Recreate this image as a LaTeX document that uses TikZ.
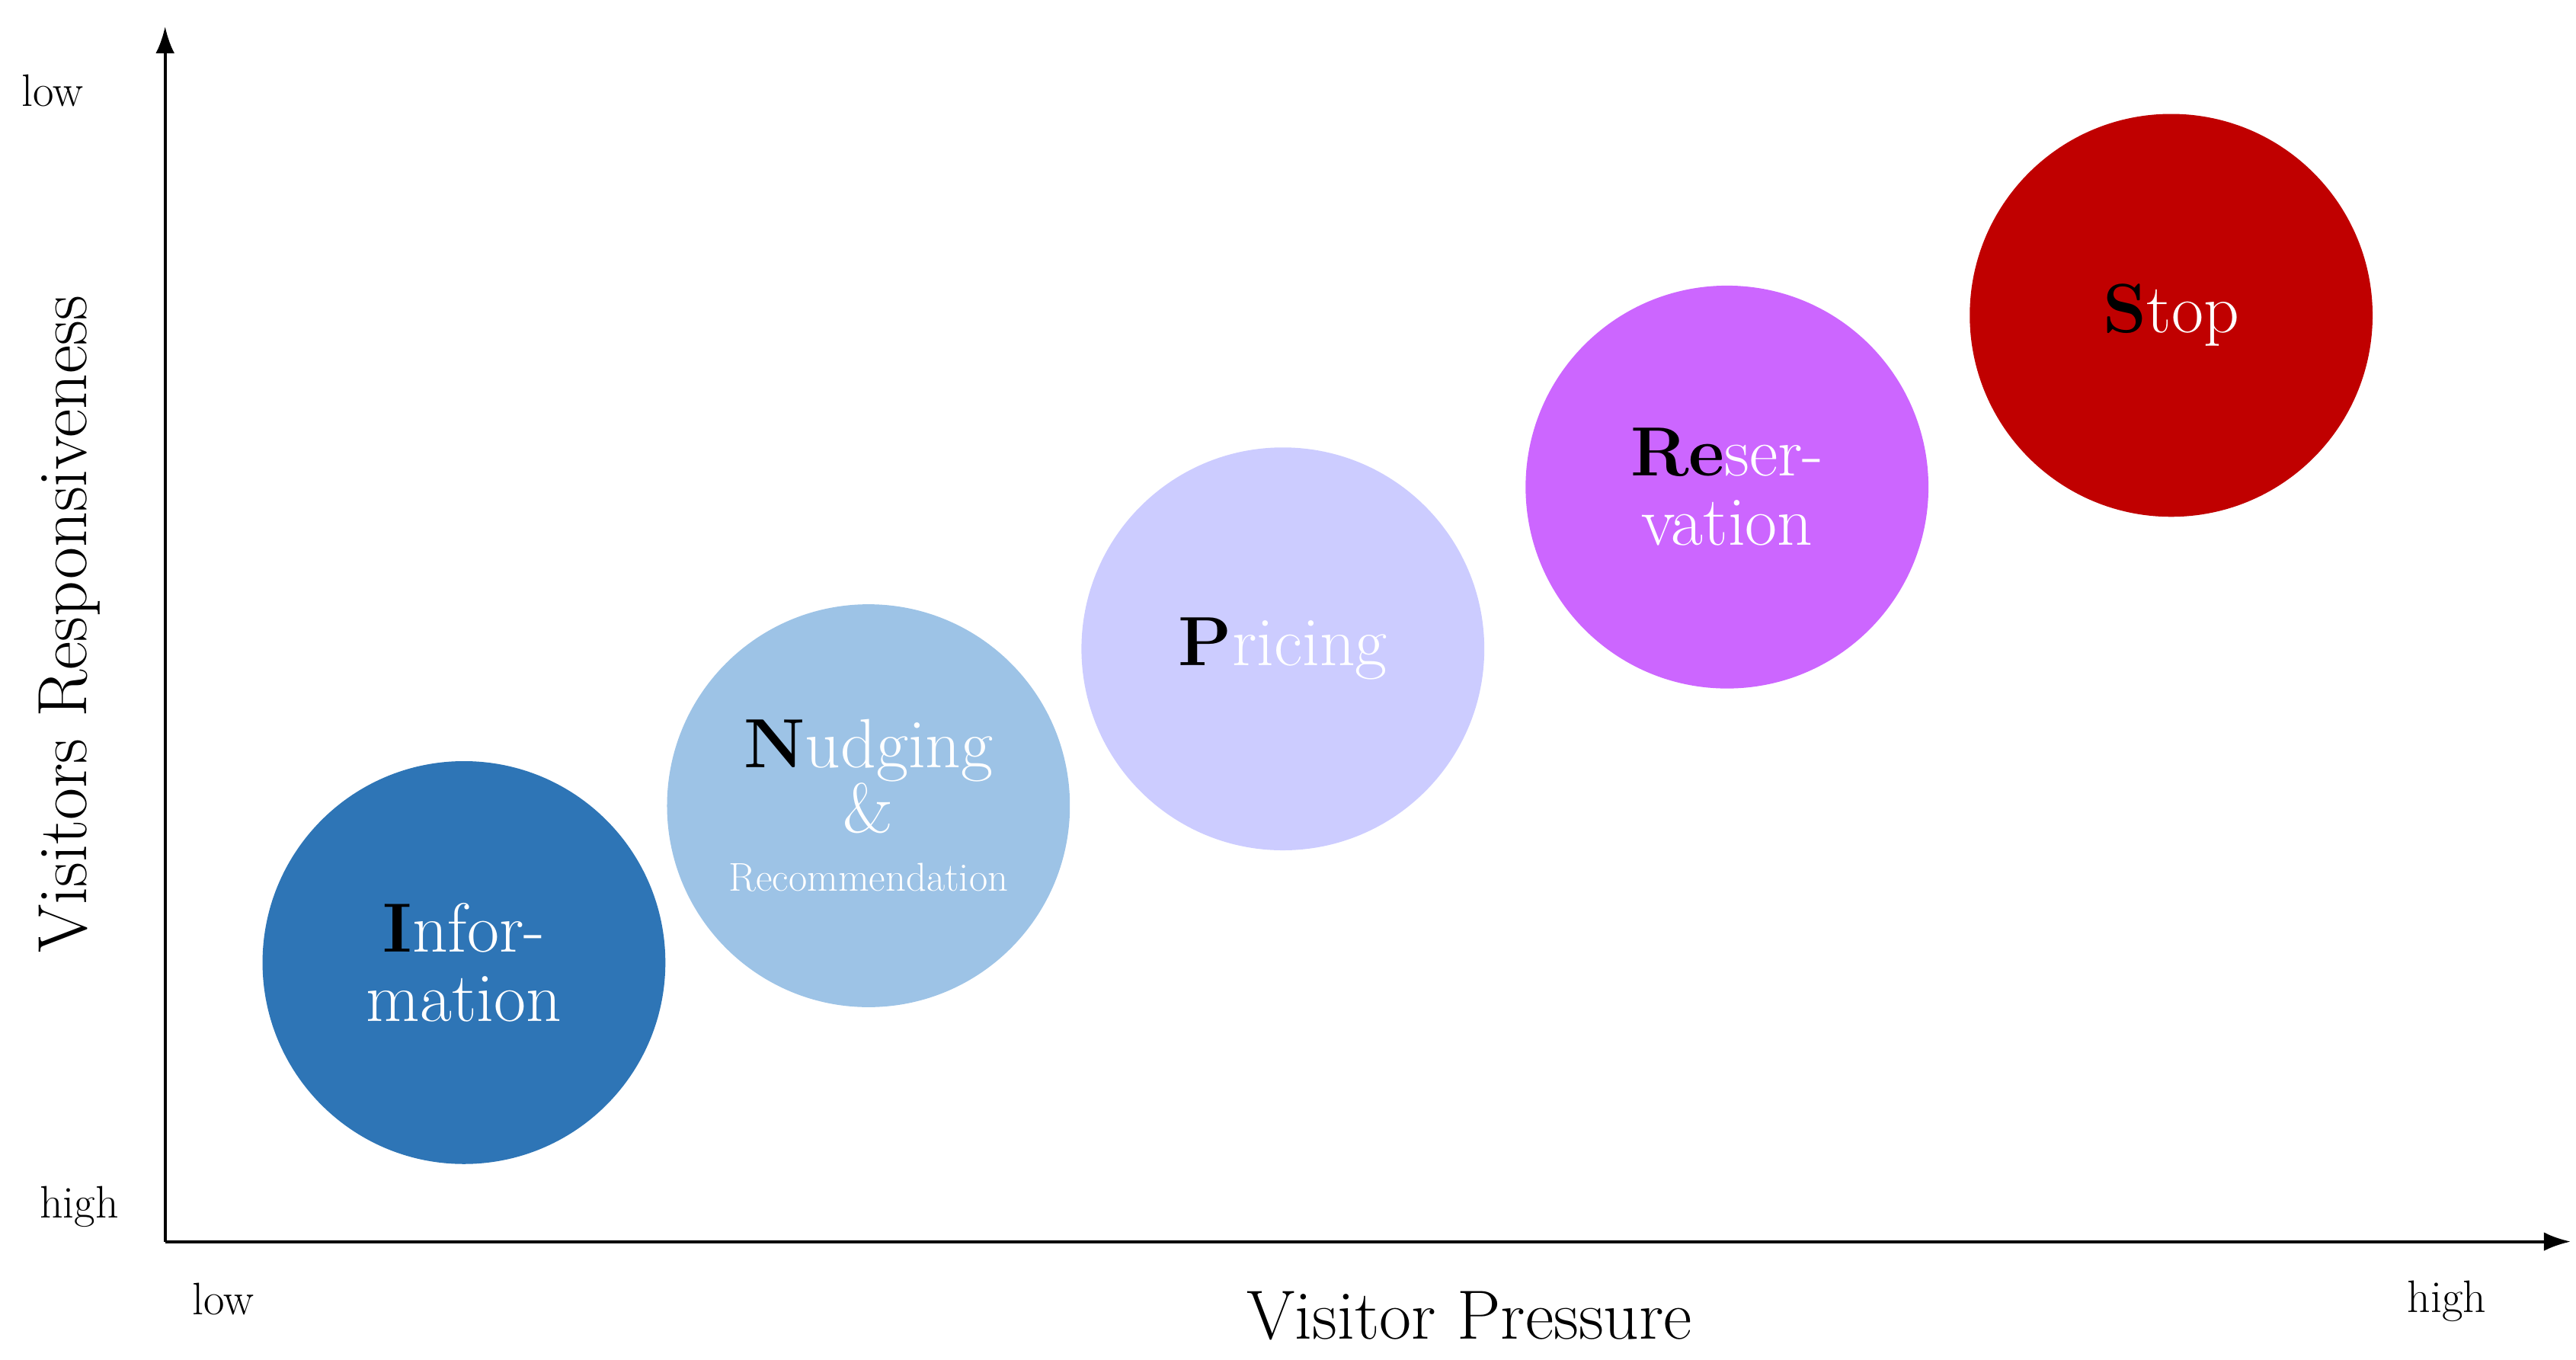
\documentclass[tikz,border=0pt]{standalone}
\usetikzlibrary{arrows.meta}
\begin{document}
\begin{tikzpicture}[x=0.02167cm,y=-0.02167cm,
  bub/.style={circle,minimum size=244*0.02167cm,inner sep=0pt,text=white,align=center,font=\fontsize{26}{30}\selectfont},
  lab/.style={font=\fontsize{17}{20}\selectfont},
  ax/.style={line width=1.2pt,-{Latex[length=10pt,width=7pt]}}]
\useasboundingbox (0,0) rectangle (1560.2,823.7);
\coordinate (o) at (100,752);
\coordinate (yt) at (100,16);
\coordinate (xt) at (1557,752);
\draw[ax] (o) -- (yt);
\draw[ax] (o) -- (xt);
\node[lab] (ylow) at (32,55) {low};
\node[lab] (yhigh) at (48,731) {high};
\node[lab] (xlow) at (135,787) {low};
\node[lab] (xhigh) at (1482,788) {high};
\node[font=\fontsize{26}{30}\selectfont] (xl) at (890,797) {Visitor Pressure};
\node[font=\fontsize{26}{30}\selectfont,rotate=90] (yl) at (42,378) {Visitors Responsiveness};
\node[bub,fill={rgb,255:red,46;green,117;blue,182}] (i) at (281,583) {\textcolor{black}{\textbf{I}}nfor-\\[-4pt]mation};
\node[bub,fill={rgb,255:red,157;green,195;blue,230}] (n) at (526,488) {\textcolor{black}{\textbf{N}}udging\\[-6pt]\&\\[-8pt]{\fontsize{15}{18}\selectfont Recommendation}};
\node[bub,fill={rgb,255:red,204;green,204;blue,255}] (p) at (777,393) {\textcolor{black}{\textbf{P}}ricing};
\node[bub,fill={rgb,255:red,204;green,102;blue,255}] (r) at (1046,295) {\textcolor{black}{\textbf{Re}}ser-\\[-4pt]vation};
\node[bub,fill={rgb,255:red,192;green,0;blue,0}] (s) at (1315,191) {\textcolor{black}{\textbf{S}}top};
\end{tikzpicture}
\end{document}
